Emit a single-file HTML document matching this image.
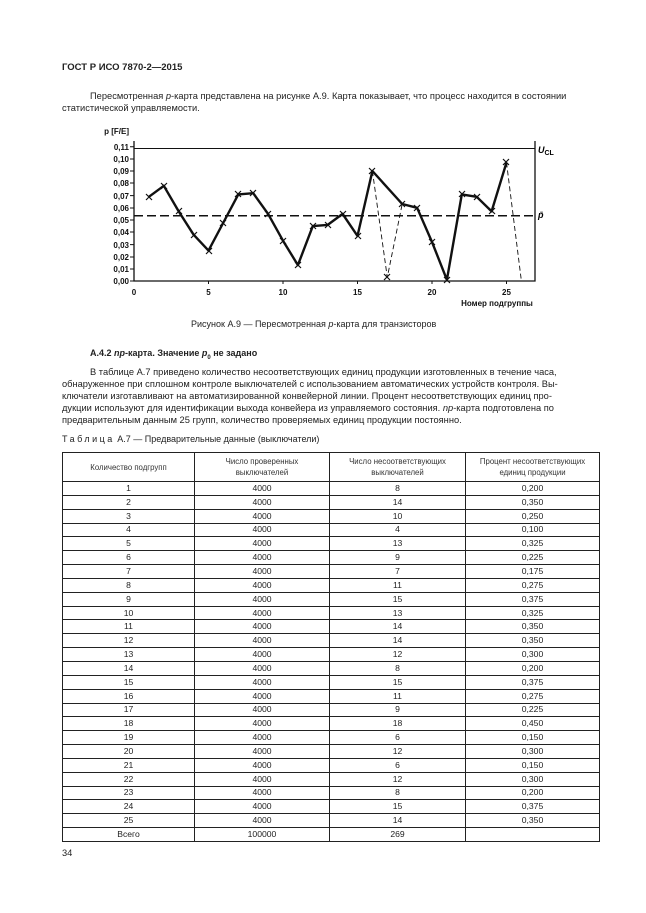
<!DOCTYPE html>
<html><head><meta charset="utf-8"><style>
body{margin:0;background:#fff;}
#p{position:relative;width:646px;height:913px;background:#fff;font-family:"Liberation Sans",sans-serif;color:#222;overflow:hidden}
.t{position:absolute;font-size:9.3px;white-space:nowrap;line-height:12px}
table{position:absolute;left:62px;top:452px;width:537px;border-collapse:collapse;font-size:8.6px;table-layout:fixed}
td{border:1px solid #222;text-align:center;padding:0;height:12.85px;line-height:11px}
th{border:1px solid #222;font-weight:normal;font-size:7.8px;height:28px;line-height:11px;color:#333;padding:0}
</style></head><body><div id="p">
<div class="t" style="left:62px;top:62px;font-weight:bold;font-size:9.5px">ГОСТ Р ИСО 7870-2—2015</div>
<div class="t" style="left:90px;top:90px">Пересмотренная <i>p</i>-карта представлена на рисунке А.9. Карта показывает, что процесс находится в состоянии</div>
<div class="t" style="left:62px;top:102px">статистической управляемости.</div>
<svg style="position:absolute;left:0;top:0" width="646" height="320">
<g font-family="Liberation Sans" font-weight="bold" font-size="8" fill="#111" text-anchor="end">
<text x="129" y="134">p [F/E]</text>
<text x="129" y="150">0,11</text><text x="129" y="162">0,10</text><text x="129" y="174">0,09</text><text x="129" y="186">0,08</text><text x="129" y="199">0,07</text><text x="129" y="211">0,06</text><text x="129" y="223">0,05</text><text x="129" y="235">0,04</text><text x="129" y="248">0,03</text><text x="129" y="260">0,02</text><text x="129" y="272">0,01</text><text x="129" y="284">0,00</text>
</g>
<g font-family="Liberation Sans" font-weight="bold" font-size="8" fill="#111" text-anchor="middle">
<text x="134" y="295">0</text><text x="208.5" y="295">5</text><text x="283" y="295">10</text><text x="357.5" y="295">15</text><text x="432" y="295">20</text><text x="506.5" y="295">25</text>
<text x="497" y="306">Номер подгруппы</text>
</g>
<text x="538" y="153" font-family="Liberation Sans" font-size="9" font-style="italic" font-weight="bold">U<tspan font-size="7" dy="2" font-style="normal">CL</tspan></text>
<text x="538" y="218" font-family="Liberation Sans" font-size="9" font-style="italic" font-weight="bold">p̄</text>
<g stroke="#111" fill="none">
<path d="M134 141V281H535V141" stroke-width="1.3"/>
<path d="M130 146.7h4M130 159h4M130 171h4M130 183h4M130 195.6h4M130 208h4M130 220h4M130 232h4M130 244.6h4M130 257h4M130 269h4M130 281h4"/>
<path d="M208.5 281v3M283 281v3M357.5 281v3M432 281v3M506.5 281v3"/>
<line x1="134" y1="148.5" x2="535" y2="148.5" stroke-width="0.9"/>
<line x1="134" y1="215.7" x2="535" y2="215.7" stroke-width="1.5" stroke-dasharray="9,4"/>
<polyline stroke-width="0.9" stroke-dasharray="5,3" points="372.4,171 387.3,277.3 402.2,204 "/>
<polyline stroke-width="0.9" stroke-dasharray="5,3" points="506.5,162.5 521.4,281"/>
<polyline stroke-width="2.4" stroke-linejoin="round" points="148.9,196.8 163.8,185.8 178.7,211.4 193.6,234.7 208.5,250.6 223.4,222.5 238.3,194.4 253.2,193.2 268.1,213.9 283,240.7 297.9,265.1 312.8,226.1 327.7,224.9 342.6,213.9 357.5,235.9 372.4,171 402.2,204 417.1,207.8 432,242 446.9,279.8 461.8,194.4 476.7,196.8 491.6,211.4 506.5,162.5"/>
</g>
<g stroke="#111" stroke-width="1.2">
<path d="M146 194l6 6M152 194l-6 6M161 183l6 6M167 183l-6 6M176 208l6 6M182 208l-6 6M191 232l6 6M197 232l-6 6M206 248l6 6M212 248l-6 6M220 220l6 6M226 220l-6 6M235 191l6 6M241 191l-6 6M250 190l6 6M256 190l-6 6M265 211l6 6M271 211l-6 6M280 238l6 6M286 238l-6 6M295 262l6 6M301 262l-6 6M310 223l6 6M316 223l-6 6M325 222l6 6M331 222l-6 6M340 211l6 6M346 211l-6 6M355 233l6 6M361 233l-6 6M369 168l6 6M375 168l-6 6M384 274l6 6M390 274l-6 6M399 201l6 6M405 201l-6 6M414 205l6 6M420 205l-6 6M429 239l6 6M435 239l-6 6M444 277l6 6M450 277l-6 6M459 191l6 6M465 191l-6 6M474 194l6 6M480 194l-6 6M489 208l6 6M495 208l-6 6M503 159l6 6M509 159l-6 6"/>
</g>
</svg>
<div class="t" style="left:191px;top:318px;font-size:9px">Рисунок А.9 — Пересмотренная <i>p</i>-карта для транзисторов</div>
<div class="t" style="left:90px;top:347px;font-weight:bold;font-size:9px">А.4.2 <i>np</i>-карта. Значение <i>p</i><sub style="font-size:6px">0</sub> не задано</div>
<div class="t" style="left:90px;top:366px">В таблице А.7 приведено количество несоответствующих единиц продукции изготовленных в течение часа,</div>
<div class="t" style="left:62px;top:378px">обнаруженное при сплошном контроле выключателей с использованием автоматических устройств контроля. Вы-</div>
<div class="t" style="left:62px;top:390px">ключатели изготавливают на автоматизированной конвейерной линии. Процент несоответствующих единиц про-</div>
<div class="t" style="left:62px;top:402px">дукции используют для идентификации выхода конвейера из управляемого состояния. <i>np</i>-карта подготовлена по</div>
<div class="t" style="left:62px;top:414px">предварительным данным 25 групп, количество проверяемых единиц продукции постоянно.</div>
<div class="t" style="left:62px;top:433px;font-size:9px"><span style="letter-spacing:2.5px">Таблица</span> А.7 — Предварительные данные (выключатели)</div>
<table><colgroup><col style="width:132px"><col style="width:135px"><col style="width:136px"><col style="width:134px"></colgroup>
<tr><th>Количество подгрупп</th><th>Число проверенных<br>выключателей</th><th>Число несоответствующих<br>выключателей</th><th>Процент несоответствующих<br>единиц продукции</th></tr>
<tr><td>1</td><td>4000</td><td>8</td><td>0,200</td></tr>
<tr><td>2</td><td>4000</td><td>14</td><td>0,350</td></tr>
<tr><td>3</td><td>4000</td><td>10</td><td>0,250</td></tr>
<tr><td>4</td><td>4000</td><td>4</td><td>0,100</td></tr>
<tr><td>5</td><td>4000</td><td>13</td><td>0,325</td></tr>
<tr><td>6</td><td>4000</td><td>9</td><td>0,225</td></tr>
<tr><td>7</td><td>4000</td><td>7</td><td>0,175</td></tr>
<tr><td>8</td><td>4000</td><td>11</td><td>0,275</td></tr>
<tr><td>9</td><td>4000</td><td>15</td><td>0,375</td></tr>
<tr><td>10</td><td>4000</td><td>13</td><td>0,325</td></tr>
<tr><td>11</td><td>4000</td><td>14</td><td>0,350</td></tr>
<tr><td>12</td><td>4000</td><td>14</td><td>0,350</td></tr>
<tr><td>13</td><td>4000</td><td>12</td><td>0,300</td></tr>
<tr><td>14</td><td>4000</td><td>8</td><td>0,200</td></tr>
<tr><td>15</td><td>4000</td><td>15</td><td>0,375</td></tr>
<tr><td>16</td><td>4000</td><td>11</td><td>0,275</td></tr>
<tr><td>17</td><td>4000</td><td>9</td><td>0,225</td></tr>
<tr><td>18</td><td>4000</td><td>18</td><td>0,450</td></tr>
<tr><td>19</td><td>4000</td><td>6</td><td>0,150</td></tr>
<tr><td>20</td><td>4000</td><td>12</td><td>0,300</td></tr>
<tr><td>21</td><td>4000</td><td>6</td><td>0,150</td></tr>
<tr><td>22</td><td>4000</td><td>12</td><td>0,300</td></tr>
<tr><td>23</td><td>4000</td><td>8</td><td>0,200</td></tr>
<tr><td>24</td><td>4000</td><td>15</td><td>0,375</td></tr>
<tr><td>25</td><td>4000</td><td>14</td><td>0,350</td></tr>
<tr><td>Всего</td><td>100000</td><td>269</td><td></td></tr>
</table>
<div class="t" style="left:62px;top:847px">34</div>
</div></body></html>
